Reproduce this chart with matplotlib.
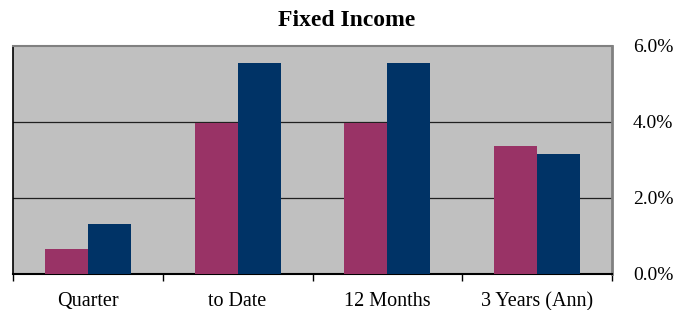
import numpy as np
import matplotlib.pyplot as plt
from matplotlib.ticker import FuncFormatter

categories = ["Quarter", "to Date", "12 Months", "3 Years (Ann)"]
series_a = [0.66, 3.97, 3.97, 3.37]
series_b = [1.32, 5.55, 5.55, 3.16]
yticks = [0, 2, 4, 6]

plt.rcParams['font.family'] = ['Liberation Serif', 'DejaVu Serif']

fig = plt.figure(figsize=(6.73, 3.10), dpi=100)
ax = fig.add_axes([13 / 673, 1 - 274 / 310, 599 / 673, 228 / 310])
ax.set_facecolor("#c0c0c0")

x = np.arange(len(categories))
w = 0.287
ax.bar(x - w / 2, series_a, width=w, color="#993366", zorder=3)
ax.bar(x + w / 2, series_b, width=w, color="#003366", zorder=3)

ax.set_xlim(-0.5, len(categories) - 0.5)
ax.set_ylim(0, 6)

# gridlines
for v in yticks[1:-1]:
    ax.axhline(v, color="#202020", linewidth=0.9, zorder=1)

ax.yaxis.tick_right()
ax.set_yticks(yticks)
ax.yaxis.set_major_formatter(FuncFormatter(lambda v, p: f"{v:.1f}%"))
ax.tick_params(axis="y", length=0, pad=15, labelsize=14)

ax.set_xticks(x)
ax.set_xticklabels(categories)
ax.set_xticks(np.arange(len(categories) + 1) - 0.5, minor=True)
ax.tick_params(axis="x", which="major", length=0, pad=13, labelsize=14.5)
ax.tick_params(axis="x", which="minor", length=5, width=1, color="black")

for s in ["top", "right"]:
    ax.spines[s].set_color("#808080")
ax.spines["top"].set_linewidth(1.5)
ax.spines["right"].set_linewidth(2)
ax.spines["left"].set_color("black")
ax.spines["left"].set_linewidth(1.2)
ax.spines["bottom"].set_color("black")
ax.spines["bottom"].set_linewidth(1.5)

fig.text(347 / 673, 1 - 20 / 310, "Fixed Income", ha="center", va="center",
         fontsize=17, fontweight="bold")

fig.savefig("out.png", dpi=100)
